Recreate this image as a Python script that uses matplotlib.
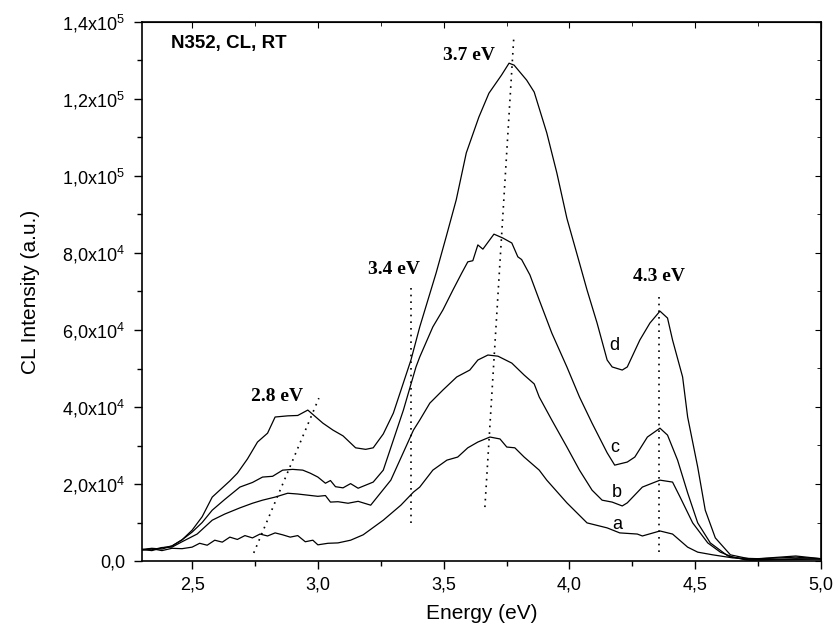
import numpy as np
import matplotlib.pyplot as plt
from matplotlib.ticker import MultipleLocator, FuncFormatter

plt.rcParams['font.family'] = ['Liberation Sans', 'DejaVu Sans']
plt.rcParams['mathtext.fontset'] = 'custom'
plt.rcParams['mathtext.rm'] = 'Liberation Sans'

# spectra (energy in eV, intensity in 1e3 a.u.)
x_d = [2.30, 2.34, 2.38, 2.42, 2.46, 2.50, 2.54, 2.58, 2.62, 2.65, 2.68, 2.72, 2.76, 2.80, 2.83,
       2.88, 2.92, 2.96, 2.99, 3.02, 3.06, 3.10, 3.15, 3.19, 3.22, 3.26, 3.30,
       3.37, 3.405, 3.47, 3.51, 3.55, 3.59, 3.64, 3.68, 3.73, 3.76, 3.78, 3.83, 3.86, 3.91, 3.95,
       3.99, 4.04, 4.07, 4.11, 4.15, 4.17, 4.21, 4.23, 4.28, 4.32, 4.36, 4.39, 4.41, 4.45, 4.47,
       4.51, 4.54, 4.58, 4.64, 4.72, 4.80, 4.90, 5.00]
y_d = [3.0, 2.7, 3.4, 3.9, 5.5, 8.0, 11.5, 16.6, 19.0, 20.8, 22.8, 26.5, 30.9, 33.2, 37.4,
       37.7, 37.8, 39.2, 37.5, 35.8, 34.0, 32.5, 29.4, 29.0, 29.4, 33.0, 38.4,
       52.2, 60.8, 74.8, 84.2, 93.8, 106.0, 115.3, 121.5, 126.2, 129.3, 128.8, 124.9, 121.8, 111.2, 100.8,
       89.0, 77.4, 70.4, 61.8, 52.2, 50.4, 49.6, 50.4, 57.4, 61.8, 64.9, 63.1, 57.4, 47.8, 37.4,
       24.4, 13.2, 6.0, 1.6, 0.5, 0.7, 1.0, 0.6]

x_c = [2.30, 2.34, 2.38, 2.42, 2.46, 2.50, 2.54, 2.58, 2.63, 2.69, 2.74, 2.78, 2.82, 2.86, 2.90,
       2.94, 2.97, 3.00, 3.03, 3.05, 3.07, 3.10, 3.13, 3.16, 3.19, 3.22, 3.26, 3.34,
       3.39, 3.405, 3.457, 3.497, 3.537, 3.572, 3.596, 3.616, 3.636, 3.656, 3.70, 3.735, 3.771, 3.795, 3.81,
       3.843, 3.88, 3.93, 3.99, 4.04, 4.09, 4.15, 4.18, 4.23, 4.26, 4.31, 4.36, 4.39, 4.43, 4.47,
       4.51, 4.56, 4.63, 4.70, 4.80, 4.90, 5.00]
y_c = [3.0, 3.3, 3.1, 3.9, 5.5, 7.5, 10.0, 13.2, 16.0, 19.2, 20.4, 21.8, 22.0, 23.6, 23.8,
       23.6, 22.8, 21.8, 20.2, 20.9, 19.3, 19.0, 20.1, 18.9, 19.7, 20.5, 23.6, 39.2,
       50.4, 53.0, 60.8, 65.2, 70.4, 74.8, 77.7, 78.0, 82.1, 81.0, 84.9, 83.9, 82.6, 79.0, 78.3,
       74.3, 67.8, 59.2, 50.4, 42.6, 35.8, 28.1, 24.9, 25.7, 27.0, 32.2, 34.5, 32.7, 26.2, 17.7,
       9.9, 4.7, 1.3, 0.3, 0.4, 0.6, 0.5]

x_b = [2.30, 2.34, 2.38, 2.42, 2.46, 2.52, 2.58, 2.63, 2.69, 2.74, 2.78, 2.83, 2.88, 2.92, 2.96,
       3.00, 3.03, 3.05, 3.08, 3.12, 3.16, 3.21, 3.29, 3.38, 3.405,
       3.445, 3.497, 3.552, 3.604, 3.636, 3.676, 3.716, 3.771, 3.82, 3.86, 3.88, 3.93, 3.99, 4.04, 4.09,
       4.13, 4.17, 4.21, 4.23, 4.29, 4.36, 4.41, 4.44, 4.49, 4.55, 4.60, 4.65, 4.72, 4.80, 4.90, 5.00]
y_b = [3.0, 2.9, 3.5, 3.6, 5.0, 7.0, 10.6, 12.2, 13.8, 15.0, 15.8, 16.6, 17.6, 17.4, 17.1,
       16.8, 17.0, 15.3, 15.4, 15.0, 15.5, 14.5, 21.0, 34.0, 36.6,
       41.0, 44.4, 47.8, 49.6, 52.2, 53.5, 53.2, 51.4, 48.3, 46.0, 42.6, 36.6, 29.6, 23.6, 18.4,
       15.8, 15.3, 14.3, 15.1, 19.2, 21.0, 20.5, 16.6, 9.9, 4.7, 2.3, 1.0, 0.2, 0.3, 0.4, 0.5]

x_a = [2.30, 2.34, 2.38, 2.42, 2.46, 2.50, 2.53, 2.56, 2.59, 2.62, 2.65, 2.68, 2.71, 2.74, 2.77,
       2.80, 2.83, 2.86, 2.89, 2.92, 2.95, 2.98, 3.00, 3.04, 3.08, 3.13, 3.18, 3.26, 3.33,
       3.38, 3.405, 3.457, 3.513, 3.556, 3.596, 3.636, 3.684, 3.724, 3.751, 3.783, 3.82, 3.843, 3.88, 3.91,
       3.99, 4.07, 4.15, 4.20, 4.27, 4.29, 4.36, 4.41, 4.47, 4.51, 4.57, 4.65, 4.75, 4.90, 5.00]
y_a = [2.8, 3.2, 2.7, 3.3, 3.2, 3.6, 4.6, 4.1, 5.4, 4.9, 6.2, 5.6, 6.6, 6.0, 7.0,
       6.5, 7.3, 6.8, 6.2, 6.6, 5.0, 5.4, 4.2, 4.6, 4.7, 5.4, 6.8, 10.6, 14.5,
       17.9, 19.2, 23.6, 26.2, 27.0, 29.4, 30.9, 32.2, 31.7, 29.6, 29.4, 27.0, 25.7, 23.6, 21.0,
       15.1, 9.9, 8.6, 7.3, 7.0, 6.5, 7.8, 7.0, 3.6, 2.3, 1.6, 0.8, 0.6, 1.3, 0.6]

series = [(x_a, y_a), (x_b, y_b), (x_c, y_c), (x_d, y_d)]
curve_names = ['a', 'b', 'c', 'd']
name_x = [4.19, 4.19, 4.18, 4.177]
name_y = [9.4e3, 17.9e3, 29.6e3, 56.1e3]

# peak guide lines: label, (x0, y0), (x1, y1), label position
peaks = ['2.8 eV', '3.4 eV', '3.7 eV', '4.3 eV']
guide_start = [(2.745, 2.1e3), (3.37, 9.9e3), (3.664, 14.0e3), (4.356, 2.3e3)]
guide_end = [(3.004, 42.3e3), (3.37, 72.2e3), (3.779, 136.1e3), (4.356, 68.6e3)]
peak_label_x = [2.839, 3.304, 3.602, 4.358]
peak_label_y = [42.6e3, 75.6e3, 131.4e3, 73.8e3]

fig = plt.figure(figsize=(8.39, 6.25), dpi=100)
ax = fig.add_axes([0.169, 0.1024, 0.8095, 0.8624])

for xs, ys in series:
    ax.plot(xs, np.array(ys) * 1e3, color='black', lw=0.9)

for (x0, y0), (x1, y1) in zip(guide_start, guide_end):
    ax.plot([x0, x1], [y0, y1], color='black', lw=1.2, linestyle=(0, (1, 3)))

for txt, tx, ty in zip(peaks, peak_label_x, peak_label_y):
    ax.text(tx, ty, txt, family='Liberation Serif', weight='bold', fontsize=14,
            ha='center', va='center')

for txt, tx, ty in zip(curve_names, name_x, name_y):
    ax.text(tx, ty, txt, fontsize=13, ha='center', va='center')

ax.text(2.416, 134.5e3, 'N352, CL, RT', weight='bold', fontsize=13.5, ha='left', va='center')

ax.set_xlim(2.3, 5.0)
ax.set_ylim(0, 1.4e5)
ax.xaxis.set_major_locator(MultipleLocator(0.5))
ax.xaxis.set_minor_locator(MultipleLocator(0.25))
ax.yaxis.set_major_locator(MultipleLocator(2e4))
ax.yaxis.set_minor_locator(MultipleLocator(1e4))


def fmt_x(v, pos):
    return f'{v:.1f}'.replace('.', ',')


def fmt_y(v, pos):
    if v == 0:
        return '0,0'
    e = int(np.floor(np.log10(abs(v)) + 1e-9))
    m = v / 10 ** e
    return f'{m:.1f}'.replace('.', ',') + 'x10$^{' + str(e) + '}$'


ax.xaxis.set_major_formatter(FuncFormatter(fmt_x))
ax.yaxis.set_major_formatter(FuncFormatter(fmt_y))

ax.tick_params(axis='both', which='major', labelsize=13, length=6, width=1, direction='out', pad=5)
ax.tick_params(axis='y', which='major', pad=6)
ax.tick_params(axis='both', which='minor', length=3.5, width=1, direction='out')
# mirrored ticks on top and right point inward
ax2 = ax.secondary_xaxis('top')
ax2.xaxis.set_major_locator(MultipleLocator(0.5))
ax2.xaxis.set_minor_locator(MultipleLocator(0.25))
ax2.tick_params(which='major', direction='in', length=4, labeltop=False)
ax2.tick_params(which='minor', direction='in', length=3)
ax2.set_xticklabels([])
ax3 = ax.secondary_yaxis('right')
ax3.yaxis.set_major_locator(MultipleLocator(2e4))
ax3.yaxis.set_minor_locator(MultipleLocator(1e4))
ax3.tick_params(which='major', direction='in', length=4, labelright=False)
ax3.tick_params(which='minor', direction='in', length=3)
ax3.set_yticklabels([])

ax.set_xlabel('Energy (eV)', fontsize=15, labelpad=8)
ax.set_ylabel('CL Intensity (a.u.)', fontsize=15, labelpad=16)

for sp in ax.spines.values():
    sp.set_linewidth(1.2)

fig.savefig('out.png', dpi=100)
